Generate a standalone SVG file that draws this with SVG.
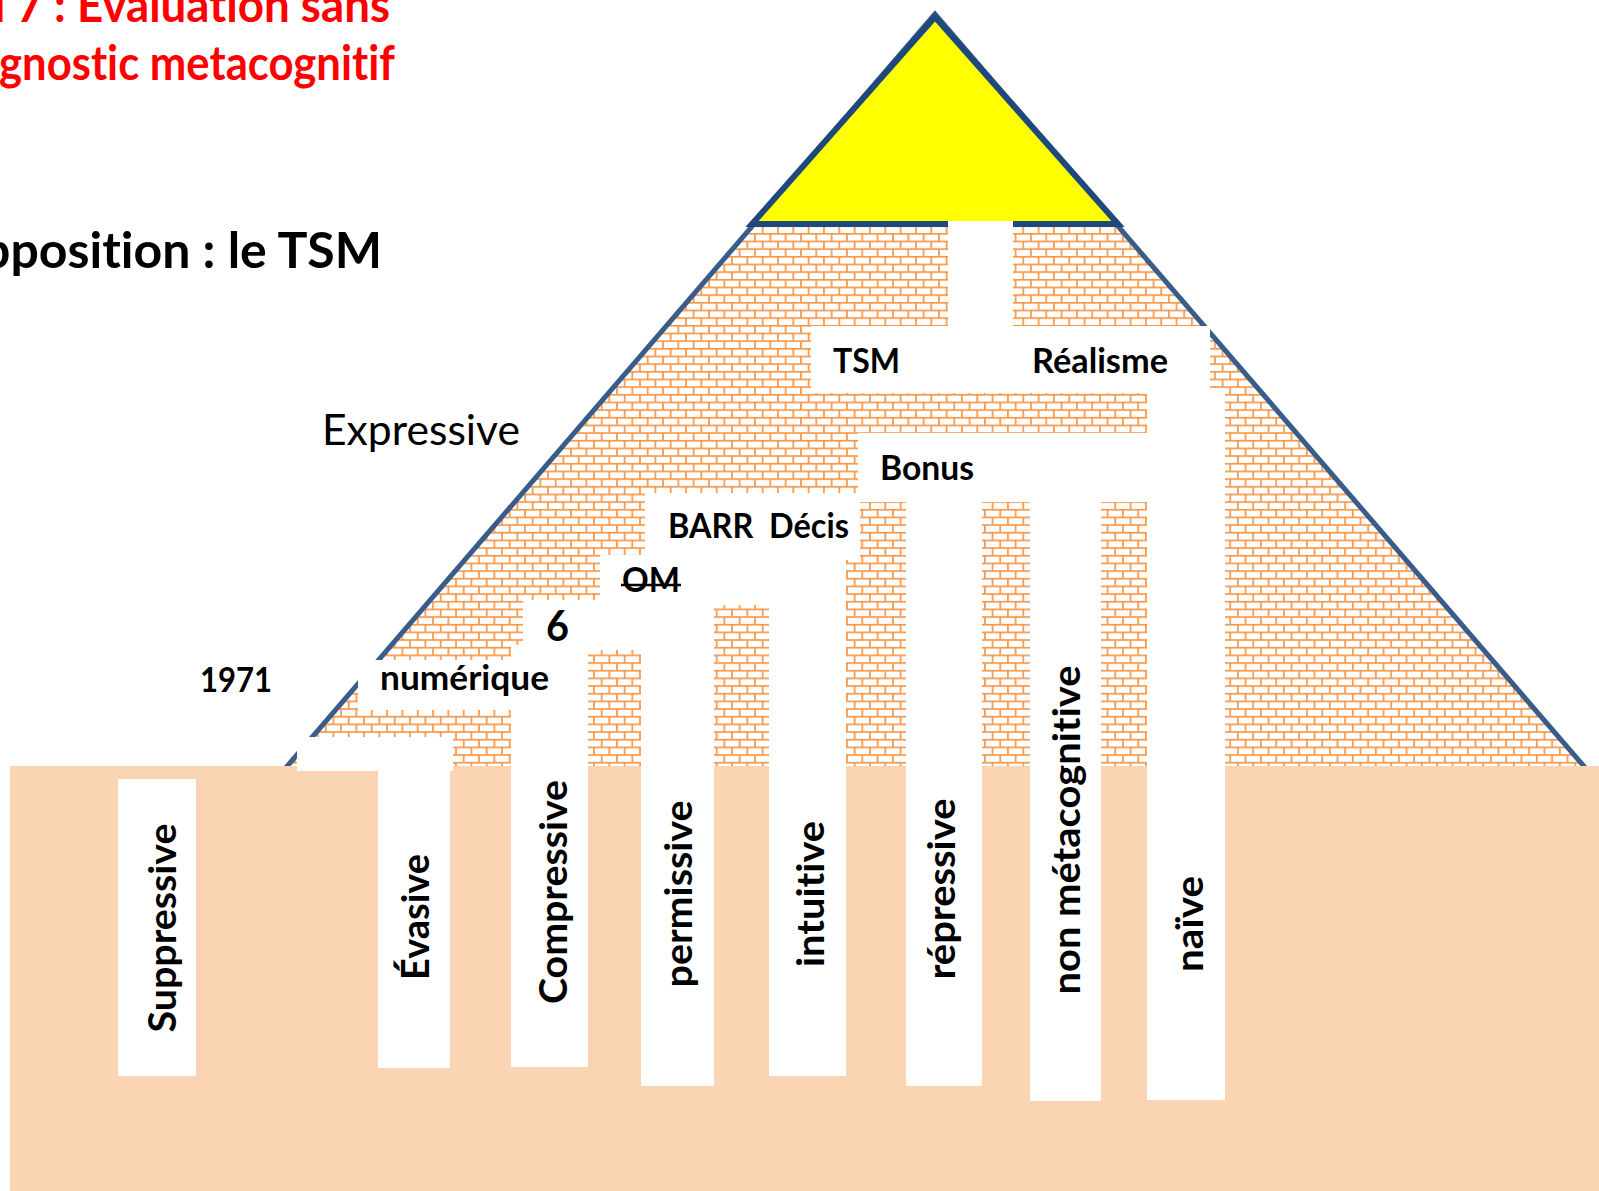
<svg xmlns="http://www.w3.org/2000/svg" width="1599" height="1191" viewBox="0 0 1599 1191">
  <defs>
    <!-- horizontal brick fill of the pyramid body -->
    <pattern id="brick" x="0" y="3" width="15.33" height="15.33" patternUnits="userSpaceOnUse">
      <rect width="15.33" height="15.33" fill="#ffffff"/>
      <path d="M0 0.8H15.33M0 8.47H15.33M3.8 0.8V8.47M11.47 8.47V16.1" stroke="#F79646" stroke-width="1.7" fill="none"/>
    </pattern>
    <style>
      .t { font-family: Lato, "Liberation Sans", sans-serif; font-weight: 700; fill: #000000; font-variant-ligatures: none; font-feature-settings: "liga" 0, "dlig" 0; }
      .lbl { font-size: 34px; }
      .vlbl { font-size: 38.6px; }
      .title { font-size: 50px; }
      .red { font-size: 48px; fill: #FF0000; }
      .reg { font-weight: 400; font-size: 43px; }
      .cut { fill: #ffffff; }
    </style>
  </defs>

  <rect id="background" x="0" y="0" width="1599" height="1191" fill="#ffffff"/>

  <!-- headings -->
  <g id="heading">
    <text class="t red" x="-6" y="22" textLength="396" lengthAdjust="spacingAndGlyphs">l 7 : Évaluation sans</text>
    <text class="t red" x="-1" y="80" textLength="396" lengthAdjust="spacingAndGlyphs">gnostic metacognitif</text>
    <text class="t title" x="-18" y="268" textLength="400" lengthAdjust="spacingAndGlyphs">pposition : le TSM</text>
  </g>

  <!-- brick pyramid; its base runs below the ground line -->
  <g id="pyramid">
    <polygon points="935,14 258,800 1613,800" fill="url(#brick)" stroke="#385D8A" stroke-width="5" stroke-linejoin="miter"/>
  </g>

  <!-- yellow capstone -->
  <g id="capstone">
    <polygon points="935,17 752,224 1118,224" fill="#FFFF00" stroke="#1F497D" stroke-width="6" stroke-linejoin="miter"/>
  </g>

  <!-- ground -->
  <g id="ground">
    <rect x="10" y="766" width="1589" height="425" fill="#FBD4B4"/>
  </g>

  <!-- white passages through the bricks -->
  <g id="passages" class="cut">
    <rect x="948" y="221" width="65" height="110"/>
    <rect x="811" y="326" width="399" height="67"/>
    <rect x="1147" y="388" width="78" height="712"/>
    <rect x="858" y="433" width="289" height="69"/>
    <rect x="1030" y="500" width="71" height="601"/>
    <rect x="906" y="500" width="76" height="586"/>
    <rect x="645" y="493" width="215" height="67"/>
    <rect x="769" y="555" width="77" height="521"/>
    <rect x="600" y="555" width="169" height="50"/>
    <rect x="641" y="600" width="73" height="486"/>
    <rect x="523" y="600" width="120" height="50"/>
    <rect x="511" y="645" width="77" height="422"/>
    <rect x="358" y="660" width="155" height="50"/>
    <rect x="297" y="737" width="156" height="34"/>
    <rect x="378" y="737" width="72" height="331"/>
    <rect x="118" y="779" width="78" height="297"/>
    <rect x="310" y="400" width="230" height="68"/>
  </g>

  <!-- horizontal labels -->
  <g id="label-expressive"><text class="t reg" x="322" y="445" textLength="198" lengthAdjust="spacingAndGlyphs">Expressive</text></g>
  <g id="label-1971"><text class="t lbl" x="200" y="692" textLength="72" lengthAdjust="spacingAndGlyphs">1971</text></g>
  <g id="label-numerique"><text class="t lbl" x="380" y="690" textLength="169" lengthAdjust="spacingAndGlyphs">numérique</text></g>
  <g id="label-6"><text class="t" style="font-size:42px" x="546" y="641" textLength="23" lengthAdjust="spacingAndGlyphs">6</text></g>
  <g id="label-om">
    <text class="t lbl" x="622" y="592" textLength="58" lengthAdjust="spacingAndGlyphs">OM</text>
    <line x1="621" y1="585" x2="681" y2="585" stroke="#000000" stroke-width="2.5"/>
  </g>
  <g id="label-barr"><text class="t lbl" x="668" y="538" textLength="181" lengthAdjust="spacingAndGlyphs" xml:space="preserve">BARR  Décis</text></g>
  <g id="label-bonus"><text class="t lbl" x="880" y="480" textLength="94" lengthAdjust="spacingAndGlyphs">Bonus</text></g>
  <g id="label-tsm"><text class="t lbl" x="833" y="373" textLength="67" lengthAdjust="spacingAndGlyphs">TSM</text></g>
  <g id="label-realisme"><text class="t lbl" x="1032" y="373" textLength="136" lengthAdjust="spacingAndGlyphs">Réalisme</text></g>

  <!-- vertical column labels -->
  <g id="label-suppressive"><text class="t vlbl" text-anchor="middle" transform="translate(176 928) rotate(-90)" textLength="209" lengthAdjust="spacingAndGlyphs">Suppressive</text></g>
  <g id="label-evasive"><text class="t vlbl" text-anchor="middle" transform="translate(429 917) rotate(-90)" textLength="126" lengthAdjust="spacingAndGlyphs">Évasive</text></g>
  <g id="label-compressive"><text class="t vlbl" text-anchor="middle" transform="translate(567 892) rotate(-90)" textLength="224" lengthAdjust="spacingAndGlyphs">Compressive</text></g>
  <g id="label-permissive"><text class="t vlbl" text-anchor="middle" transform="translate(692 894) rotate(-90)" textLength="187" lengthAdjust="spacingAndGlyphs">permissive</text></g>
  <g id="label-intuitive"><text class="t vlbl" text-anchor="middle" transform="translate(824 894) rotate(-90)" textLength="146" lengthAdjust="spacingAndGlyphs">intuitive</text></g>
  <g id="label-repressive"><text class="t vlbl" text-anchor="middle" transform="translate(955 889) rotate(-90)" textLength="181" lengthAdjust="spacingAndGlyphs">répressive</text></g>
  <g id="label-nonmeta"><text class="t vlbl" text-anchor="middle" transform="translate(1080 830) rotate(-90)" textLength="329" lengthAdjust="spacingAndGlyphs">non métacognitive</text></g>
  <g id="label-naive"><text class="t vlbl" text-anchor="middle" transform="translate(1203 924) rotate(-90)" textLength="96" lengthAdjust="spacingAndGlyphs">naïve</text></g>
</svg>
